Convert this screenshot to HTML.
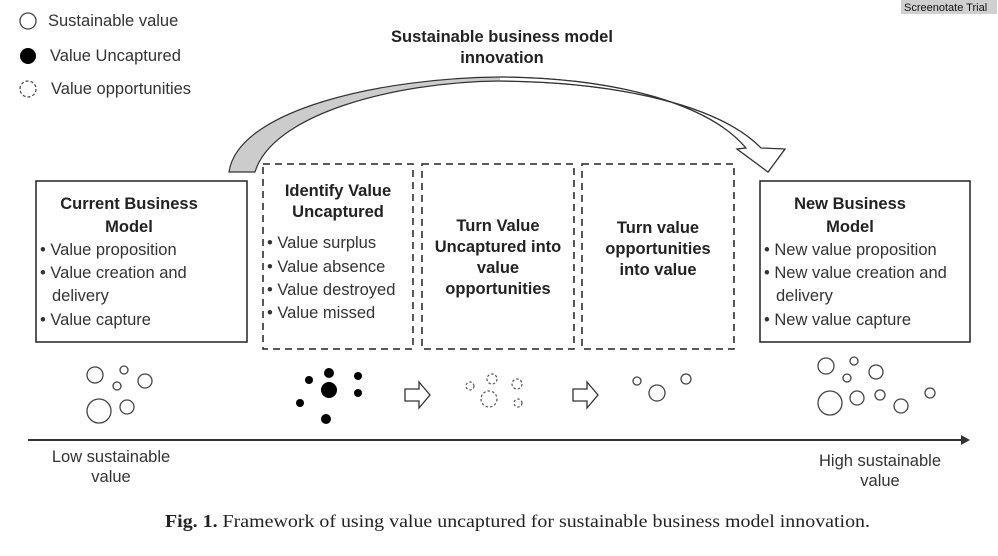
<!DOCTYPE html>
<html><head><meta charset="utf-8"><style>
html,body{margin:0;padding:0;background:#fff;width:998px;height:556px;overflow:hidden}
svg{display:block}
.t{font-family:"Liberation Sans",sans-serif;font-size:16.5px;fill:#333}
.b{font-family:"Liberation Sans",sans-serif;font-size:16.5px;font-weight:bold;fill:#222}
</style></head><body>
<svg width="998" height="556" viewBox="0 0 998 556" xmlns="http://www.w3.org/2000/svg">
<rect x="901" y="0" width="96" height="14" fill="#d0d0d0"/>
<text x="904" y="11" font-family="Liberation Sans,sans-serif" font-size="11" fill="#111">Screenotate Trial</text>
<!-- legend -->
<circle cx="28" cy="21" r="8" fill="none" stroke="#444" stroke-width="1.3"/>
<circle cx="28" cy="56" r="8" fill="#000"/>
<circle cx="28" cy="89" r="8" fill="none" stroke="#444" stroke-width="1.2" stroke-dasharray="3,2"/>
<text class="t" x="48" y="26" font-size="17">Sustainable value</text>
<text class="t" x="50" y="61" font-size="17">Value Uncaptured</text>
<text class="t" x="51" y="94" font-size="17">Value opportunities</text>
<text class="b" x="502" y="42" text-anchor="middle">Sustainable business model</text>
<text class="b" x="502" y="63" text-anchor="middle">innovation</text>
<!-- curved arrow -->
<path d="M229,172 C238,110 380,78 500,77 C620,78 710,105 746,148 L737,149 L768,172 L785,149 L761,148 C720,106 620,82 500,81 C392,82 272,115 255,172 Z" fill="#ccc" stroke="#333" stroke-width="1.2"/>
<path d="M500,81 C620,82 720,106 761,148 L785,149 L768,172 L737,149 L746,148 C710,105 620,78 500,77" fill="#fff" stroke="#333" stroke-width="1.2"/>
<!-- boxes -->
<rect x="36" y="181" width="211" height="161" fill="#fff" stroke="#222" stroke-width="1.5"/>
<rect x="760" y="181" width="210" height="161" fill="#fff" stroke="#222" stroke-width="1.5"/>
<g fill="none" stroke="#222" stroke-width="1.5" stroke-dasharray="7,5">
<rect x="263" y="164" width="150" height="185"/>
<rect x="422" y="164" width="152" height="185"/>
<rect x="582" y="164" width="152" height="185"/>
</g>
<text class="b" x="129" y="209" text-anchor="middle">Current Business</text>
<text class="b" x="129" y="232" text-anchor="middle">Model</text>
<g class="t">
<text x="40" y="255">• Value proposition</text>
<text x="40" y="278">• Value creation and</text>
<text x="52" y="301">delivery</text>
<text x="40" y="325">• Value capture</text>
</g>
<text class="b" x="338" y="196" text-anchor="middle">Identify Value</text>
<text class="b" x="338" y="217" text-anchor="middle">Uncaptured</text>
<g class="t">
<text x="267" y="248">• Value surplus</text>
<text x="267" y="272">• Value absence</text>
<text x="267" y="295">• Value destroyed</text>
<text x="267" y="318">• Value missed</text>
</g>
<g class="b" text-anchor="middle">
<text x="498" y="231">Turn Value</text>
<text x="498" y="252">Uncaptured into</text>
<text x="498" y="273">value</text>
<text x="498" y="294">opportunities</text>
<text x="658" y="233">Turn value</text>
<text x="658" y="254">opportunities</text>
<text x="658" y="275">into value</text>
<text x="850" y="209">New Business</text>
<text x="850" y="232">Model</text>
</g>
<g class="t">
<text x="764" y="255">• New value proposition</text>
<text x="764" y="278">• New value creation and</text>
<text x="776" y="301">delivery</text>
<text x="764" y="325">• New value capture</text>
</g>
<!-- circles -->
<g fill="none" stroke="#444" stroke-width="1.3">
<circle cx="95" cy="375" r="8"/><circle cx="124" cy="370" r="4"/><circle cx="117" cy="386" r="4"/><circle cx="145" cy="381" r="7"/><circle cx="99" cy="411" r="12"/><circle cx="127" cy="407" r="7"/>
<circle cx="637" cy="381" r="4"/><circle cx="657" cy="393" r="8"/><circle cx="686" cy="379" r="5"/>
<circle cx="826" cy="366" r="8"/><circle cx="854" cy="361" r="4"/><circle cx="847" cy="378" r="4"/><circle cx="876" cy="372" r="7"/><circle cx="830" cy="403" r="12"/><circle cx="857" cy="398" r="7"/><circle cx="880" cy="395" r="5"/><circle cx="901" cy="406" r="7"/><circle cx="930" cy="393" r="5"/>
</g>
<g fill="none" stroke="#555" stroke-width="1.2" stroke-dasharray="2.5,2">
<circle cx="470" cy="386" r="4"/><circle cx="492" cy="379" r="5"/><circle cx="517" cy="384" r="5"/><circle cx="489" cy="399" r="8"/><circle cx="518" cy="403" r="4"/>
</g>
<g fill="#000">
<circle cx="329" cy="373" r="5"/><circle cx="309" cy="380" r="4"/><circle cx="358" cy="376" r="4"/><circle cx="329" cy="390" r="8"/><circle cx="358" cy="393" r="4"/><circle cx="300" cy="403" r="4"/><circle cx="326" cy="419" r="5"/>
</g>
<g fill="#fff" stroke="#333" stroke-width="1.3">
<path d="M405,389 h14 v-7 l11,13 l-11,13 v-7 h-14 z"/>
<path d="M573,389 h14 v-7 l11,13 l-11,13 v-7 h-14 z"/>
</g>
<!-- axis -->
<line x1="28" y1="440" x2="962" y2="440" stroke="#333" stroke-width="2"/>
<path d="M961,435 L970,440 L961,445 Z" fill="#333"/>
<g class="t" text-anchor="middle" font-size="16">
<text x="111" y="462">Low sustainable</text>
<text x="111" y="482">value</text>
<text x="880" y="466">High sustainable</text>
<text x="880" y="486">value</text>
</g>
<text x="165" y="527" textLength="705" lengthAdjust="spacingAndGlyphs" font-family="Liberation Serif,serif" font-size="18" fill="#222"><tspan font-weight="bold">Fig. 1.</tspan> Framework of using value uncaptured for sustainable business model innovation.</text>
</svg>
</body></html>
